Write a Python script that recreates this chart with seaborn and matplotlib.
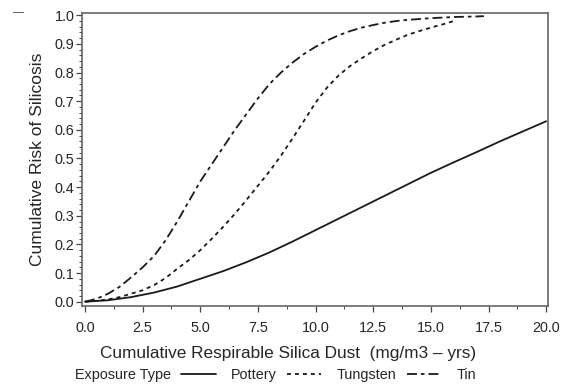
import pandas as pd
import matplotlib.pyplot as plt
import seaborn as sns
import numpy as np
from matplotlib.ticker import MultipleLocator

# values
x_pottery = [0, 1, 2, 3, 4, 5, 6, 7, 8, 9, 10, 11, 12, 13, 14, 15, 16, 17, 18, 19, 20]
risk_pottery = [0, 0.005, 0.016, 0.032, 0.053, 0.08, 0.107, 0.138, 0.172, 0.21, 0.25,
                0.29, 0.33, 0.37, 0.41, 0.45, 0.487, 0.523, 0.56, 0.595, 0.63]

x_tungsten = [0, 0.5, 1, 1.5, 2, 2.5, 3, 3.5, 4, 4.5, 5, 5.5, 6, 6.5, 7, 7.5, 8, 8.5,
              9, 9.5, 10, 10.5, 11, 11.5, 12, 12.5, 13, 13.5, 14, 14.5, 15, 15.5, 16]
risk_tungsten = [0, 0.003, 0.008, 0.016, 0.028, 0.04, 0.058, 0.083, 0.115, 0.145, 0.18,
                 0.22, 0.262, 0.307, 0.355, 0.405, 0.455, 0.51, 0.57, 0.632, 0.695,
                 0.748, 0.79, 0.823, 0.85, 0.875, 0.897, 0.915, 0.932, 0.945, 0.957,
                 0.968, 0.98]

x_tin = [0, 0.5, 1, 1.5, 2, 2.5, 3, 3.5, 4, 4.5, 5, 5.5, 6, 6.5, 7, 7.5, 8, 8.5, 9,
         9.5, 10, 10.5, 11, 11.5, 12, 12.5, 13, 13.5, 14, 14.5, 15, 16, 17, 17.3]
risk_tin = [0, 0.01, 0.028, 0.052, 0.085, 0.12, 0.16, 0.215, 0.28, 0.35, 0.42, 0.48,
            0.54, 0.6, 0.655, 0.71, 0.76, 0.8, 0.835, 0.865, 0.89, 0.912, 0.93, 0.945,
            0.957, 0.966, 0.974, 0.98, 0.984, 0.987, 0.99, 0.994, 0.996, 0.997]

exposure_types = ['Pottery', 'Tungsten', 'Tin']

d = pd.concat([
    pd.DataFrame({'dust': x_pottery, 'risk': risk_pottery, 'type': 'Pottery'}),
    pd.DataFrame({'dust': x_tungsten, 'risk': risk_tungsten, 'type': 'Tungsten'}),
    pd.DataFrame({'dust': x_tin, 'risk': risk_tin, 'type': 'Tin'}),
])

sns.set_style('ticks')
plt.rcParams['font.family'] = ['Liberation Sans', 'DejaVu Sans']

fig = plt.figure(figsize = (5.61, 3.85), dpi = 100)
ax = fig.add_axes([82/561, 1 - 306/385, (548-82)/561, (306-13)/385])

dash_styles = {'Pottery': '', 'Tungsten': (2.2, 2.2), 'Tin': (5.5, 2.2, 2, 2.2)}
sns.lineplot(data = d, x = 'dust', y = 'risk', hue = 'type', style = 'type',
             hue_order = exposure_types, style_order = exposure_types,
             palette = ['#1a1a1a']*3, dashes = dash_styles,
             linewidth = 1.3, legend = True, ax = ax, sort = False)

ax.set_xlim(-0.13, 20.08)
ax.set_ylim(-0.015, 1.008)
ax.xaxis.set_major_locator(MultipleLocator(2.5))
ax.xaxis.set_minor_locator(MultipleLocator(1.25))
ax.yaxis.set_major_locator(MultipleLocator(0.1))
ax.yaxis.set_minor_locator(MultipleLocator(0.02))
ax.xaxis.set_major_formatter(plt.FormatStrFormatter('%.1f'))
ax.yaxis.set_major_formatter(plt.FormatStrFormatter('%.1f'))

ax.tick_params(axis = 'both', which = 'major', labelsize = 10.4, color = '#444444',
               width = 0.9, length = 4)
ax.tick_params(axis = 'x', which = 'major', pad = 7)
ax.tick_params(axis = 'y', which = 'major', pad = 1.5)
ax.tick_params(axis = 'both', which = 'minor', color = '#444444', width = 0.7, length = 2.5)

for s in ax.spines.values():
    s.set_color('#666666')
    s.set_linewidth(1.2)

ax.set_ylabel('Cumulative Risk of Silicosis', fontsize = 12.5)
ax.yaxis.set_label_coords(-37/466, 0.5)
ax.set_xlabel('Cumulative Respirable Silica Dust  (mg/m3 – yrs)', fontsize = 12.4)
ax.xaxis.set_label_coords((288-82)/466, -(346-306)/293, transform = ax.transAxes)

# legend at the bottom, SAS style
handles, labels = ax.get_legend_handles_labels()
ax.get_legend().remove()
fig.text(75/561, 1 - 375/385, 'Exposure Type', fontsize = 10.4, va = 'center', ha = 'left')
fig.legend(handles, labels, ncol = 3, frameon = False, fontsize = 10.4,
           loc = 'center left', bbox_to_anchor = (181/561, 1 - 375/385),
           borderpad = 0, borderaxespad = 0, handlelength = 2.4,
           handletextpad = 1.05, columnspacing = 0.7)

# small stray dash in the top-left corner of the original
fig.text(13/561, 1 - 12/385, '—', fontsize = 8, color = '#333333', va = 'center', ha = 'left')

plt.savefig('out.png', dpi = 100)
